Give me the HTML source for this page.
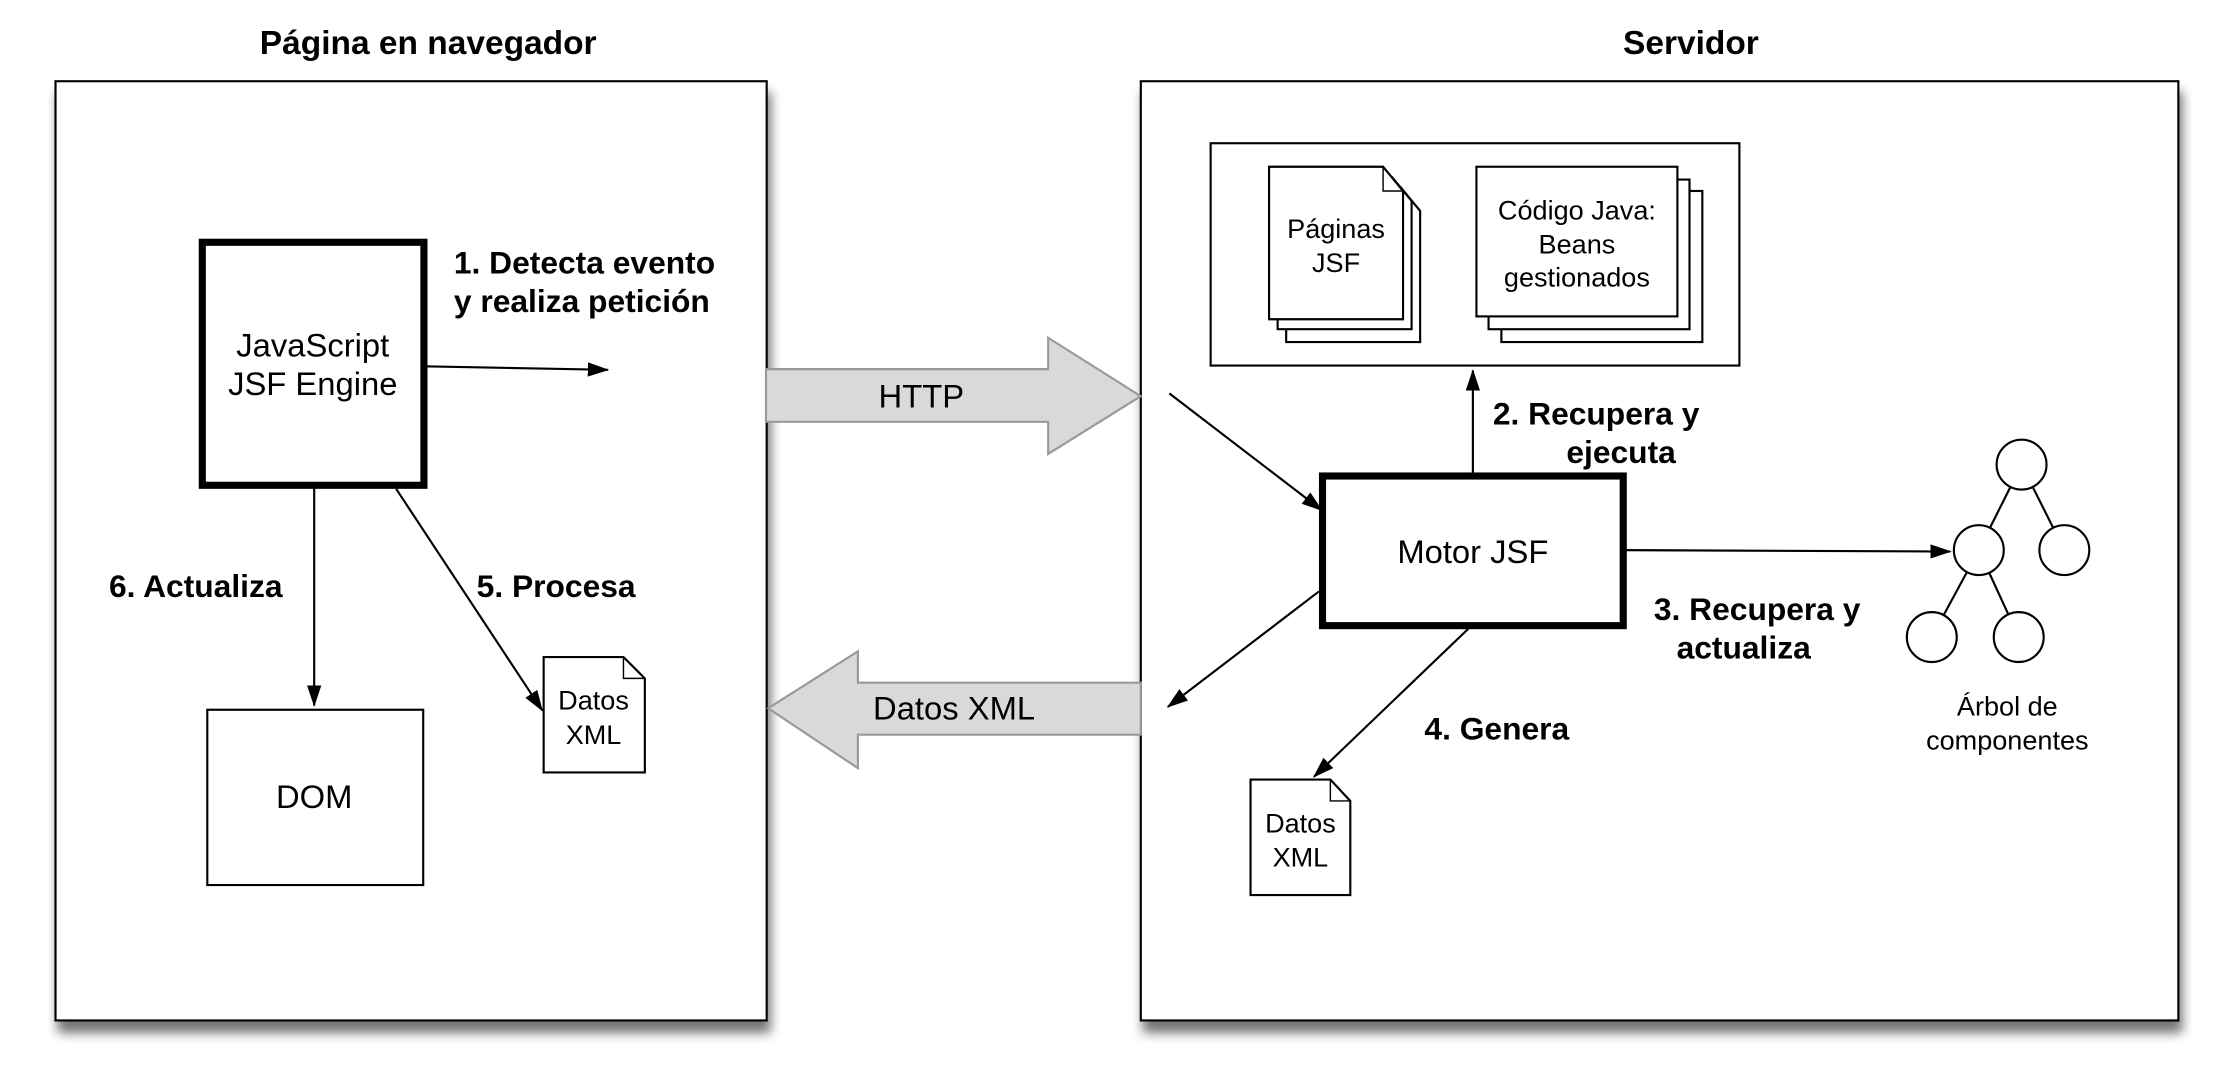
<!DOCTYPE html>
<html><head><meta charset="utf-8"><style>
html,body{margin:0;padding:0;background:#fff}
svg{display:block}
text{font-family:"Liberation Sans",Arial,sans-serif;fill:#000}
.b{font-weight:bold;font-size:22.3px}
.r{font-size:23px}
.s{font-size:19px}
</style></head><body>
<svg width="2236" height="1086" viewBox="0 0 1568 762" xmlns="http://www.w3.org/2000/svg">
<defs>
<filter id="sh" x="-5%" y="-5%" width="115%" height="115%">
<feGaussianBlur in="SourceAlpha" stdDeviation="4"/>
<feOffset dx="2" dy="8" result="o"/>
<feComponentTransfer><feFuncA type="linear" slope="0.55"/></feComponentTransfer>
<feMerge><feMergeNode/><feMergeNode in="SourceGraphic"/></feMerge>
</filter>
<marker id="a" markerWidth="15" markerHeight="10" refX="14" refY="5" orient="auto" markerUnits="userSpaceOnUse">
<path d="M0,0 L15,5 L0,10 Z" fill="#000"/>
</marker>
</defs>

<text class="b" x="300" y="38" text-anchor="middle" style="font-size:23.5px">Página en navegador</text>
<text class="b" x="1186" y="38" text-anchor="middle" style="font-size:23.5px">Servidor</text>

<rect x="38.5" y="57" width="499" height="659" fill="#fff" stroke="#000" stroke-width="1.5" filter="url(#sh)"/>
<rect x="800" y="57" width="728" height="659" fill="#fff" stroke="#000" stroke-width="1.5" filter="url(#sh)"/>

<path d="M537,259 L735,259 L735,237 L800,278 L735,318.5 L735,296 L537,296 Z" fill="#d9d9d9" stroke="#999" stroke-width="1.5"/>
<text class="r" x="646" y="286" text-anchor="middle">HTTP</text>
<path d="M800,479 L601.5,479 L601.5,457 L538.5,497 L601.5,539 L601.5,515.5 L800,515.5 Z" fill="#d9d9d9" stroke="#999" stroke-width="1.5"/>
<text class="r" x="669" y="505" text-anchor="middle">Datos XML</text>

<rect x="141.5" y="170" width="155.5" height="170.5" fill="#fff" stroke="#000" stroke-width="5"/>
<text class="r" x="219" y="250" text-anchor="middle">JavaScript</text>
<text class="r" x="219" y="277" text-anchor="middle">JSF Engine</text>
<line x1="297" y1="257" x2="426" y2="259.5" stroke="#000" stroke-width="1.5" marker-end="url(#a)"/>
<text class="b" x="318" y="192">1. Detecta evento</text>
<text class="b" x="318" y="219">y realiza petición</text>

<rect x="145" y="498" width="151.5" height="123" fill="#fff" stroke="#000" stroke-width="1.5"/>
<text class="r" x="220" y="567" text-anchor="middle">DOM</text>
<line x1="220" y1="340" x2="220" y2="495" stroke="#000" stroke-width="1.5" marker-end="url(#a)"/>
<text class="b" x="76" y="419">6. Actualiza</text>
<line x1="277.5" y1="343" x2="380" y2="498.5" stroke="#000" stroke-width="1.5" marker-end="url(#a)"/>
<text class="b" x="334" y="419">5. Procesa</text>

<path d="M381,461 L437,461 L452,476 L452,542 L381,542 Z" fill="#fff" stroke="#000" stroke-width="1.5"/>
<path d="M437,461 L437,476 L452,476" fill="none" stroke="#000" stroke-width="1"/>
<text class="s" x="416" y="498" text-anchor="middle">Datos</text>
<text class="s" x="416" y="522" text-anchor="middle">XML</text>

<rect x="849" y="100.5" width="371" height="156" fill="#fff" stroke="#000" stroke-width="1.5"/>
<g fill="#fff" stroke="#000" stroke-width="1.5">
<path d="M902,131 L982,131 L996,148 L996,240 L902,240 Z"/>
<path d="M896,124 L976,124 L990,141 L990,231 L896,231 Z"/>
<path d="M890,117 L970,117 L984,134 L984,224 L890,224 Z"/>
</g>
<path d="M970,117 L970,134 L984,134" fill="none" stroke="#000" stroke-width="1"/>
<text class="s" x="937" y="167" text-anchor="middle">Páginas</text>
<text class="s" x="937" y="191" text-anchor="middle">JSF</text>
<g fill="#fff" stroke="#000" stroke-width="1.5">
<rect x="1053" y="134" width="141" height="106"/>
<rect x="1044" y="126" width="141" height="105"/>
<rect x="1035.5" y="117" width="141" height="105"/>
</g>
<text class="s" x="1106" y="154" text-anchor="middle">Código Java:</text>
<text class="s" x="1106" y="178" text-anchor="middle">Beans</text>
<text class="s" x="1106" y="201" text-anchor="middle">gestionados</text>

<rect x="927.5" y="334" width="211" height="105" fill="#fff" stroke="#000" stroke-width="5"/>
<text class="r" x="1033" y="395" text-anchor="middle">Motor JSF</text>
<line x1="1033" y1="332" x2="1033" y2="260" stroke="#000" stroke-width="1.5" marker-end="url(#a)"/>
<text class="b" x="1047" y="298">2. Recupera y</text>
<text class="b" x="1137" y="325" text-anchor="middle">ejecuta</text>
<line x1="820" y1="276" x2="927" y2="358" stroke="#000" stroke-width="1.5" marker-end="url(#a)"/>
<line x1="925" y1="415" x2="819" y2="496" stroke="#000" stroke-width="1.5" marker-end="url(#a)"/>
<line x1="1138.5" y1="386" x2="1368" y2="387" stroke="#000" stroke-width="1.5" marker-end="url(#a)"/>
<text class="b" x="1160" y="435">3. Recupera y</text>
<text class="b" x="1223" y="462" text-anchor="middle">actualiza</text>
<line x1="1030" y1="441" x2="921.5" y2="545" stroke="#000" stroke-width="1.5" marker-end="url(#a)"/>
<text class="b" x="999" y="519">4. Genera</text>

<path d="M877,547 L933,547 L947,562 L947,628 L877,628 Z" fill="#fff" stroke="#000" stroke-width="1.5"/>
<path d="M933,547 L933,562 L947,562" fill="none" stroke="#000" stroke-width="1"/>
<text class="s" x="912" y="584" text-anchor="middle">Datos</text>
<text class="s" x="912" y="608" text-anchor="middle">XML</text>

<g stroke="#000" stroke-width="1.5" fill="#fff">
<line x1="1418" y1="326" x2="1388" y2="386"/>
<line x1="1418" y1="326" x2="1448" y2="386"/>
<line x1="1388" y1="386" x2="1355" y2="447"/>
<line x1="1388" y1="386" x2="1416" y2="447"/>
<circle cx="1418" cy="326" r="17.5"/>
<circle cx="1388" cy="386" r="17.5"/>
<circle cx="1448" cy="386" r="17.5"/>
<circle cx="1355" cy="447" r="17.5"/>
<circle cx="1416" cy="447" r="17.5"/>
</g>
<text class="s" x="1408" y="502" text-anchor="middle">Árbol de</text>
<text class="s" x="1408" y="526" text-anchor="middle">componentes</text>
</svg>
</body></html>
